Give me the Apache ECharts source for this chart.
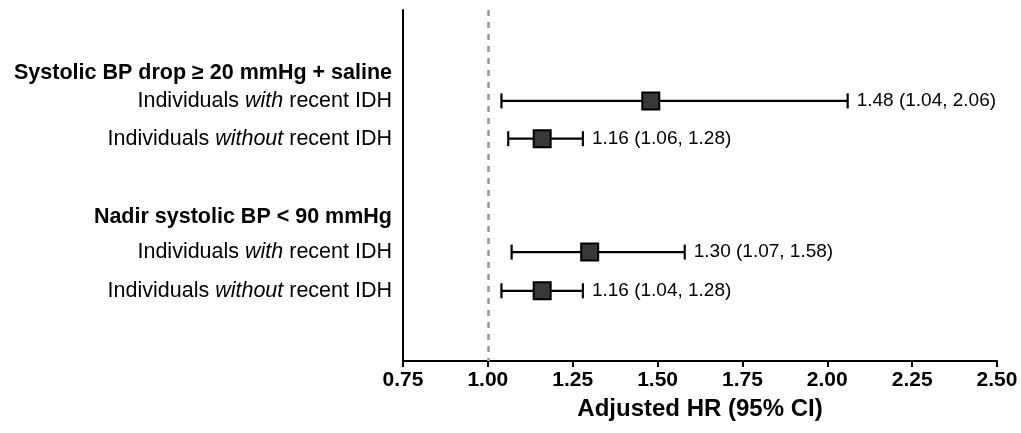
<!DOCTYPE html>
<html>
<head>
<meta charset="utf-8">
<script src="https://cdn.jsdelivr.net/npm/echarts@6/dist/echarts.min.js"></script>
<style>
html,body{margin:0;padding:0;background:#fff;}
#chart{width:1021px;height:433px;}
</style>
</head>
<body>
<div id="chart"></div>
<script>
// ---- data ----
const rowLabels = [
  '{b|Systolic BP drop ≥ 20 mmHg + saline}',
  'Individuals {i|with} recent IDH',
  'Individuals {i|without} recent IDH',
  '{b|Nadir systolic BP < 90 mmHg}',
  'Individuals {i|with} recent IDH',
  'Individuals {i|without} recent IDH'
];
const rowPos = [7, 10.1, 14.3, 23, 26.9, 31.2];
const estPos = [10.1, 14.3, 26.9, 31.2];
const hr = [1.48, 1.16, 1.30, 1.16];
const lower = [1.04, 1.06, 1.07, 1.04];
const upper = [2.06, 1.28, 1.58, 1.28];
const xTicks = [0.75, 1.00, 1.25, 1.50, 1.75, 2.00, 2.25, 2.50];
const refLine = 1.0;

const FONT = '"Liberation Sans", Arial, Helvetica, sans-serif';
const chart = echarts.init(document.getElementById('chart'), null, {renderer: 'canvas'});

const ciData = hr.map((v, i) => [lower[i], upper[i], estPos[i], v]);
const ptData = hr.map((v, i) => [v, estPos[i]]);

const option = {
  animation: false,
  backgroundColor: '#fff',
  grid: {left: 403, right: 24, top: 10, bottom: 72, containLabel: false},
  xAxis: {
    type: 'value',
    min: xTicks[0],
    max: xTicks[xTicks.length - 1],
    interval: 0.25,
    axisLine: {show: true, onZero: false, lineStyle: {color: '#000', width: 2}},
    axisTick: {show: true, length: 6, lineStyle: {color: '#000', width: 2}},
    splitLine: {show: false},
    axisLabel: {
      color: '#000', fontFamily: FONT, fontWeight: 'bold', fontSize: 21, margin: 9,
      formatter: v => v.toFixed(2)
    },
    name: 'Adjusted HR (95% CI)',
    nameLocation: 'middle',
    nameGap: 36,
    nameTextStyle: {color: '#000', fontFamily: FONT, fontWeight: 'bold', fontSize: 24}
  },
  yAxis: {
    type: 'value',
    inverse: true,
    min: 0,
    max: 39,
    axisLine: {show: true, onZero: false, lineStyle: {color: '#000', width: 2}},
    axisTick: {show: false},
    splitLine: {show: false},
    axisLabel: {
      customValues: rowPos,
      margin: 11,
      color: '#000',
      fontFamily: FONT,
      fontSize: 21.5,
      formatter: function (v) {
        const idx = rowPos.findIndex(p => Math.abs(p - v) < 1e-6);
        return idx >= 0 ? rowLabels[idx] : '';
      },
      rich: {
        b: {fontWeight: 'bold', fontSize: 21.5, fontFamily: FONT, color: '#000'},
        i: {fontStyle: 'italic', fontSize: 21.5, fontFamily: FONT, color: '#000'}
      }
    }
  },
  series: [
    {
      type: 'custom',
      z: 2,
      data: ciData,
      encode: {x: [0, 1], y: 2},
      renderItem: function (params, api) {
        const lo = api.coord([api.value(0), api.value(2)]);
        const hi = api.coord([api.value(1), api.value(2)]);
        const h = 7.5;
        const st = {stroke: '#000', lineWidth: 2.2};
        const lbl = api.value(3).toFixed(2) + ' (' + api.value(0).toFixed(2) + ', ' + api.value(1).toFixed(2) + ')';
        return {
          type: 'group',
          children: [
            {type: 'line', shape: {x1: lo[0], y1: lo[1], x2: hi[0], y2: hi[1]}, style: st},
            {type: 'line', shape: {x1: lo[0], y1: lo[1] - h, x2: lo[0], y2: lo[1] + h}, style: st},
            {type: 'line', shape: {x1: hi[0], y1: hi[1] - h, x2: hi[0], y2: hi[1] + h}, style: st},
            {type: 'text', x: hi[0] + 9, y: hi[1],
              style: {text: lbl, fill: '#000', font: '19px ' + FONT, textAlign: 'left', textVerticalAlign: 'middle'}}
          ]
        };
      },
      markLine: {
        silent: true,
        symbol: 'none',
        label: {show: false},
        lineStyle: {color: '#999', width: 2.5, type: [6, 6]},
        data: [{xAxis: refLine}]
      }
    },
    {
      type: 'scatter',
      z: 3,
      data: ptData,
      symbol: 'rect',
      symbolSize: 17,
      itemStyle: {color: '#383838', borderColor: '#000', borderWidth: 2, opacity: 1}
    }
  ]
};
chart.setOption(option);
</script>
</body>
</html>
